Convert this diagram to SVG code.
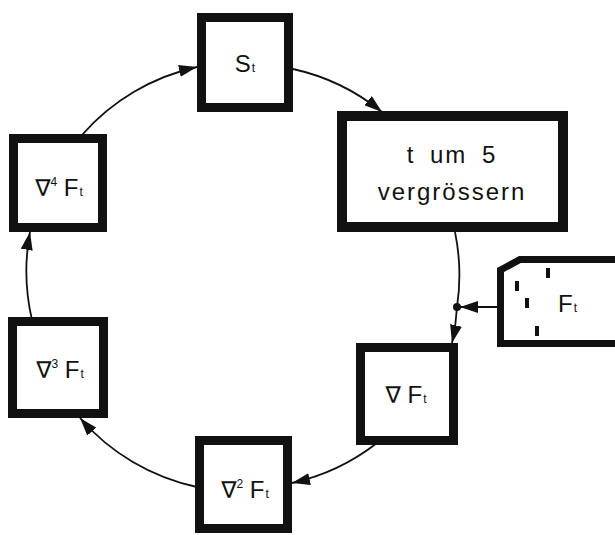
<svg xmlns="http://www.w3.org/2000/svg" width="615" height="535" viewBox="0 0 615 535">
<style>
.box{fill:#fff;stroke:#111;stroke-width:9}
.lbl{font-family:"Liberation Sans",Arial,sans-serif;font-size:24px;fill:#111}
.nab{font-family:"DejaVu Sans",sans-serif;font-size:23px}
.sup{font-size:12px}
.sub{font-size:12px}
.con{fill:none;stroke:#111;stroke-width:1.8}
</style>
<defs>
<marker id="ah" markerUnits="userSpaceOnUse" markerWidth="18" markerHeight="12" refX="18" refY="6" orient="auto">
<path d="M0,0 L18,6 L0,12 Z" fill="#111"/>
</marker>
</defs>
<rect width="615" height="535" fill="#fff"/>
<g id="connectors">
<path class="con" d="M293,69 A214,214 0 0 1 382,112" marker-end="url(#ah)"/>
<path class="con" d="M455,232 A214,214 0 0 1 457,307"/>
<path class="con" d="M457,307 A214,214 0 0 1 452,343" marker-end="url(#ah)"/>
<path class="con" d="M497,307 L460,307" marker-end="url(#ah)"/>
<circle cx="457" cy="307" r="4" fill="#111"/>
<path class="con" d="M377,443 A214,214 0 0 1 292,483" marker-end="url(#ah)"/>
<path class="con" d="M197,487 A214,214 0 0 1 80,418" marker-end="url(#ah)"/>
<path class="con" d="M32,320 A214,214 0 0 1 30,232" marker-end="url(#ah)"/>
<path class="con" d="M82,135 A214,214 0 0 1 197,67" marker-end="url(#ah)"/>
</g>
<g id="node-s">
<rect class="box" x="201.5" y="17.5" width="87" height="90"/>
<text class="lbl" x="245" y="72" text-anchor="middle">S<tspan class="sub" dx="1">t</tspan></text>
</g>
<g id="node-increment">
<rect class="box" x="342" y="116" width="221" height="111" style="stroke-width:10"/>
<text class="lbl" x="452" y="163" text-anchor="middle" style="letter-spacing:2px;word-spacing:6px">t um 5</text>
<text class="lbl" x="452" y="200" text-anchor="middle" style="letter-spacing:2px">vergrössern</text>
</g>
<g id="node-card">
<path d="M620,259.5 L520,259.5 L500.5,270 L500.5,343.5 L620,343.5" fill="#fff" stroke="#111" stroke-width="7"/>
<rect x="515" y="281" width="4" height="10" fill="#111"/>
<rect x="546" y="268" width="4" height="10" fill="#111"/>
<rect x="525" y="298" width="4" height="10" fill="#111"/>
<rect x="535" y="326" width="4" height="10" fill="#111"/>
<text class="lbl" x="558" y="312">F<tspan class="sub" dx="1">t</tspan></text>
</g>
<g id="node-d1">
<rect class="box" x="360.5" y="347.5" width="93" height="93"/>
<text class="lbl" x="406" y="403" text-anchor="middle"><tspan class="nab">∇</tspan> F<tspan class="sub" dx="1">t</tspan></text>
</g>
<g id="node-d2">
<rect class="box" x="199.5" y="440.5" width="88" height="88"/>
<text class="lbl" x="245" y="498" text-anchor="middle"><tspan class="nab">∇</tspan><tspan class="sup" dy="-10">2</tspan><tspan dy="10"> F</tspan><tspan class="sub" dx="1">t</tspan></text>
</g>
<g id="node-d3">
<rect class="box" x="12.5" y="321.5" width="91" height="92"/>
<text class="lbl" x="60" y="378" text-anchor="middle"><tspan class="nab">∇</tspan><tspan class="sup" dy="-10">3</tspan><tspan dy="10"> F</tspan><tspan class="sub" dx="1">t</tspan></text>
</g>
<g id="node-d4">
<rect class="box" x="13.5" y="138.5" width="89" height="89"/>
<text class="lbl" x="59" y="196" text-anchor="middle"><tspan class="nab">∇</tspan><tspan class="sup" dy="-10">4</tspan><tspan dy="10"> F</tspan><tspan class="sub" dx="1">t</tspan></text>
</g>
</svg>
